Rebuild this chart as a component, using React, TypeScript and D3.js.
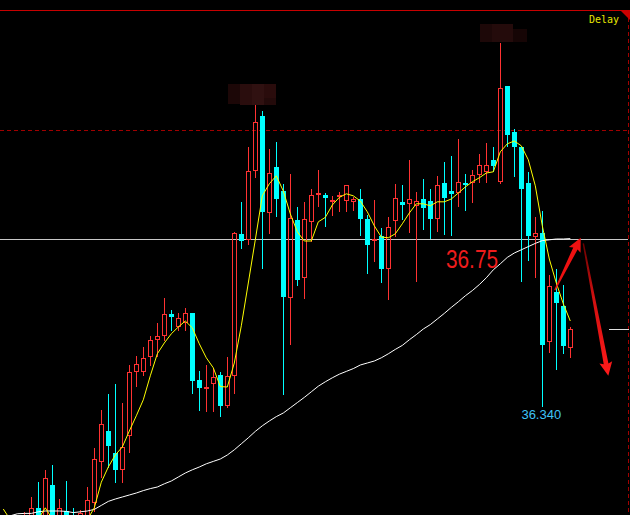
import React from 'react';
import * as d3 from 'd3';

// OHLC per bar, left to right
const opens = [36.043, 36.028, 36.038, 36.038, 36.043, 36.078, 36.043, 36.135, 36.048, 36.07, 36.058, 36.048, 36.053, 36.089, 36.193, 36.271, 36.216, 36.173, 36.258, 36.418, 36.418, 36.454, 36.497, 36.508, 36.563, 36.529, 36.539, 36.564, 36.398, 36.376, 36.387, 36.41, 36.333, 36.408, 36.763, 36.748, 36.919, 37.058, 36.816, 36.929, 36.87, 36.602, 36.798, 36.653, 36.793, 36.859, 36.859, 36.843, 36.854, 36.846, 36.843, 36.849, 36.8, 36.744, 36.758, 36.676, 36.794, 36.843, 36.838, 36.833, 36.849, 36.845, 36.801, 36.889, 36.87, 36.866, 36.889, 36.889, 36.909, 36.918, 36.948, 36.893, 37.133, 37.017, 36.981, 36.891, 36.756, 36.764, 36.493, 36.617, 36.583, 36.477];
const highs = [36.055, 36.048, 36.05, 36.068, 36.106, 36.143, 36.173, 36.185, 36.1, 36.145, 36.078, 36.073, 36.13, 36.228, 36.323, 36.363, 36.388, 36.341, 36.435, 36.458, 36.479, 36.508, 36.541, 36.602, 36.573, 36.564, 36.578, 36.565, 36.42, 36.435, 36.427, 36.418, 36.455, 36.768, 36.843, 36.981, 37.085, 37.069, 36.975, 36.993, 36.887, 36.913, 36.831, 36.843, 36.875, 36.923, 36.864, 36.858, 36.867, 36.886, 36.856, 36.874, 36.809, 36.848, 36.777, 36.804, 36.888, 36.885, 36.948, 36.868, 36.9, 36.875, 36.908, 36.943, 36.958, 37.0, 36.912, 36.923, 36.963, 36.989, 36.979, 37.241, 37.133, 37.026, 36.981, 36.918, 36.804, 36.82, 36.66, 36.674, 36.635, 36.531];
const lows = [36.023, 36.013, 36.018, 36.03, 36.033, 36.028, 36.033, 36.038, 36.038, 36.033, 36.035, 36.04, 36.045, 36.068, 36.152, 36.177, 36.141, 36.141, 36.216, 36.381, 36.408, 36.433, 36.454, 36.495, 36.521, 36.521, 36.521, 36.362, 36.321, 36.318, 36.318, 36.304, 36.327, 36.362, 36.726, 36.736, 36.903, 36.676, 36.763, 36.804, 36.36, 36.485, 36.633, 36.601, 36.742, 36.831, 36.779, 36.808, 36.818, 36.818, 36.82, 36.758, 36.663, 36.693, 36.641, 36.598, 36.754, 36.798, 36.764, 36.643, 36.773, 36.749, 36.768, 36.76, 36.758, 36.831, 36.821, 36.841, 36.889, 36.891, 36.918, 36.887, 36.979, 36.904, 36.643, 36.696, 36.653, 36.329, 36.464, 36.423, 36.463, 36.453];
const closes = [36.033, 36.038, 36.025, 36.053, 36.078, 36.038, 36.153, 36.048, 36.078, 36.043, 36.045, 36.064, 36.098, 36.2, 36.288, 36.233, 36.173, 36.23, 36.418, 36.438, 36.453, 36.497, 36.507, 36.562, 36.554, 36.553, 36.564, 36.396, 36.377, 36.379, 36.404, 36.333, 36.408, 36.764, 36.746, 36.919, 37.042, 36.818, 36.914, 36.849, 36.606, 36.802, 36.648, 36.799, 36.859, 36.864, 36.853, 36.848, 36.859, 36.885, 36.849, 36.801, 36.736, 36.749, 36.676, 36.779, 36.852, 36.836, 36.849, 36.844, 36.828, 36.801, 36.885, 36.853, 36.863, 36.893, 36.884, 36.909, 36.934, 36.934, 36.933, 37.128, 37.01, 36.979, 36.874, 36.758, 36.764, 36.485, 36.633, 36.591, 36.483, 36.524];

// moving averages (yellow short, white long)
const maShort = [36.075, 36.048, 36.035, 36.04, 36.045, 36.05, 36.078, 36.05, 36.028, 36.028, 36.028, 36.023, 36.048, 36.078, 36.142, 36.18, 36.21, 36.23, 36.27, 36.308, 36.348, 36.408, 36.463, 36.49, 36.513, 36.53, 36.545, 36.528, 36.488, 36.453, 36.428, 36.381, 36.38, 36.44, 36.533, 36.64, 36.748, 36.858, 36.888, 36.908, 36.87, 36.813, 36.768, 36.745, 36.745, 36.793, 36.804, 36.835, 36.854, 36.863, 36.858, 36.845, 36.818, 36.783, 36.755, 36.753, 36.763, 36.788, 36.815, 36.838, 36.838, 36.833, 36.843, 36.843, 36.85, 36.865, 36.88, 36.893, 36.903, 36.915, 36.918, 36.968, 36.988, 36.995, 36.983, 36.948, 36.883, 36.783, 36.7, 36.64, 36.588, 36.545];
const maLong = [36.053, 36.058, 36.063, 36.064, 36.064, 36.068, 36.07, 36.07, 36.07, 36.069, 36.066, 36.068, 36.07, 36.074, 36.084, 36.094, 36.1, 36.105, 36.11, 36.115, 36.121, 36.126, 36.13, 36.138, 36.145, 36.155, 36.165, 36.173, 36.18, 36.188, 36.194, 36.2, 36.21, 36.223, 36.238, 36.253, 36.269, 36.283, 36.295, 36.306, 36.315, 36.328, 36.341, 36.354, 36.368, 36.382, 36.393, 36.403, 36.412, 36.419, 36.426, 36.435, 36.44, 36.445, 36.453, 36.463, 36.474, 36.484, 36.498, 36.511, 36.525, 36.536, 36.55, 36.564, 36.579, 36.593, 36.608, 36.621, 36.636, 36.653, 36.673, 36.688, 36.704, 36.715, 36.723, 36.731, 36.739, 36.746, 36.748, 36.75, 36.75, 36.751];

const topLevel = 37.3225;
const dashedLevel = 37.0225;
const refLevel = 36.75;
const refLabel = '36.75';
const lowLabel = '36.340';
// [fromIndex, fromPrice, toIndex, toPrice]
const arrows = [
  [78.8, 36.6225, 82.49, 36.7533],
  [82.86, 36.7393, 86.43, 36.4083],
];

const width = 630;
const height = 515;
const UP = '#ff3232';
const DOWN = '#00ffff';

function arrowPath(sx: number, sy: number, tx: number, ty: number) {
  const len = Math.hypot(tx - sx, ty - sy);
  const ux = (tx - sx) / len;
  const uy = (ty - sy) / len;
  const nx = -uy;
  const ny = ux;
  const headLen = 12;
  const bx = tx - ux * headLen;
  const by = ty - uy * headLen;
  const pts = [
    [sx + nx * 0.7, sy + ny * 0.7],
    [bx + nx * 2.4, by + ny * 2.4],
    [bx + nx * 6.5 - ux * 1.5, by + ny * 6.5 - uy * 1.5],
    [tx, ty],
    [bx - nx * 6.5 - ux * 1.5, by - ny * 6.5 - uy * 1.5],
    [bx - nx * 2.4, by - ny * 2.4],
    [sx - nx * 0.7, sy - ny * 0.7],
  ];
  return 'M' + pts.map((p) => p.join(',')).join('L') + 'Z';
}

export default function App() {
  const x = d3.scaleLinear().domain([0, 81]).range([3.3, 570.3]);
  const y = d3.scaleLinear().domain([36.06, 37.3475]).range([515, 0]);

  const line = d3
    .line<number>()
    .x((_, i) => x(i))
    .y((d) => y(d));

  const yTop = Math.round(y(topLevel)) + 0.5;
  const yDash = Math.round(y(dashedLevel)) + 0.5;
  const yRef = Math.round(y(refLevel)) + 0.5;
  const yLast = Math.round(y(closes[closes.length - 1])) + 0.5;

  const a2 = arrows[1];

  return (
    <svg
      width={width}
      height={height}
      style={{ position: 'absolute', left: 0, top: 0, background: '#000', display: 'block' }}
    >
      <defs>
        <linearGradient
          id="fade"
          gradientUnits="userSpaceOnUse"
          x1={x(a2[0])}
          y1={y(a2[1])}
          x2={x(a2[2])}
          y2={y(a2[3])}
        >
          <stop offset="0" stopColor="#6a0000" />
          <stop offset="0.4" stopColor="#d01010" />
          <stop offset="1" stopColor="#ff1a1a" />
        </linearGradient>
      </defs>
      <rect width={width} height={height} fill="#000" />

      {/* blurred marks */}
      <g shapeRendering="crispEdges">
        <rect x={228} y={84} width={12} height={20} fill="#1c0707" />
        <rect x={240} y={84} width={12} height={21} fill="#2a0d0d" />
        <rect x={252} y={84} width={12} height={21} fill="#301111" />
        <rect x={264} y={84} width={12} height={14} fill="#2a0c0c" />
        <rect x={264} y={98} width={12} height={7} fill="#230a0a" />
        <rect x={480} y={24} width={12} height={18} fill="#1d0808" />
        <rect x={492} y={24} width={21} height={18} fill="#240b0b" />
        <rect x={513} y={29} width={14} height={13} fill="#160505" />
      </g>

      {/* frame and levels */}
      <g shapeRendering="crispEdges">
        <line x1={0} x2={width} y1={yTop} y2={yTop} stroke="#c80000" />
        <line x1={0} x2={628} y1={yDash} y2={yDash} stroke="#a00000" strokeDasharray="4,3" />
        <line x1={628.5} x2={628.5} y1={yTop} y2={height} stroke="#a00000" strokeDasharray="4,3" />
        <line x1={0} x2={628} y1={yRef} y2={yRef} stroke="#c8c8c8" />
        <line x1={609} x2={629} y1={yLast} y2={yLast} stroke="#e0e0e0" />
      </g>
      <path d={`M620,${yTop - 0.5}L630,${yTop - 0.5}L630,${yTop + 9.5}Z`} fill="#cc0000" />

      {/* candles */}
      <g shapeRendering="crispEdges">
        {opens.map((o, i) => {
          const c = closes[i];
          const cx = Math.round(x(i));
          const top = Math.round(y(Math.max(o, c)));
          const bot = Math.round(y(Math.min(o, c)));
          const hi = Math.round(y(highs[i]));
          const lo = Math.round(y(lows[i]));
          if (c >= o) {
            return (
              <g key={i} stroke={UP} fill="none">
                <line x1={cx + 0.5} x2={cx + 0.5} y1={hi} y2={top} />
                <line x1={cx + 0.5} x2={cx + 0.5} y1={bot} y2={lo} />
                {bot - top >= 2 ? (
                  <rect x={cx - 1.5} y={top + 0.5} width={4} height={bot - top - 1} />
                ) : (
                  <line x1={cx - 2} x2={cx + 3} y1={top + 0.5} y2={top + 0.5} />
                )}
              </g>
            );
          }
          return (
            <g key={i}>
              <line x1={cx + 0.5} x2={cx + 0.5} y1={hi} y2={lo} stroke={DOWN} />
              <rect x={cx - 2} y={top} width={5} height={Math.max(1, bot - top)} fill={DOWN} />
            </g>
          );
        })}
      </g>

      {/* moving averages */}
      <path d={line(maLong) ?? ''} fill="none" stroke="#ffffff" strokeWidth={1} />
      <path d={line(maShort) ?? ''} fill="none" stroke="#ffff00" strokeWidth={1} />

      {/* annotations */}
      {arrows.map((a, i) => (
        <path
          key={i}
          d={arrowPath(x(a[0]), y(a[1]), x(a[2]), y(a[3]))}
          fill={i === 1 ? 'url(#fade)' : '#ee1111'}
        />
      ))}
      <text
        x={446}
        y={268}
        fontFamily="Liberation Sans, Arial, sans-serif"
        fontSize={25}
        textLength={52}
        lengthAdjust="spacingAndGlyphs"
        fill="#ee1c1c"
      >
        {refLabel}
      </text>
      <text
        x={x(77) - 1}
        y={y(lows[77]) + 12}
        textAnchor="middle"
        fontFamily="Liberation Sans, Arial, sans-serif"
        fontSize={13}
        fill="#3ec3f5"
      >
        {lowLabel}
      </text>
      <text x={589} y={23} fontFamily="DejaVu Sans Mono, monospace" fontSize={10} fill="#e6e600">
        Delay
      </text>
    </svg>
  );
}
